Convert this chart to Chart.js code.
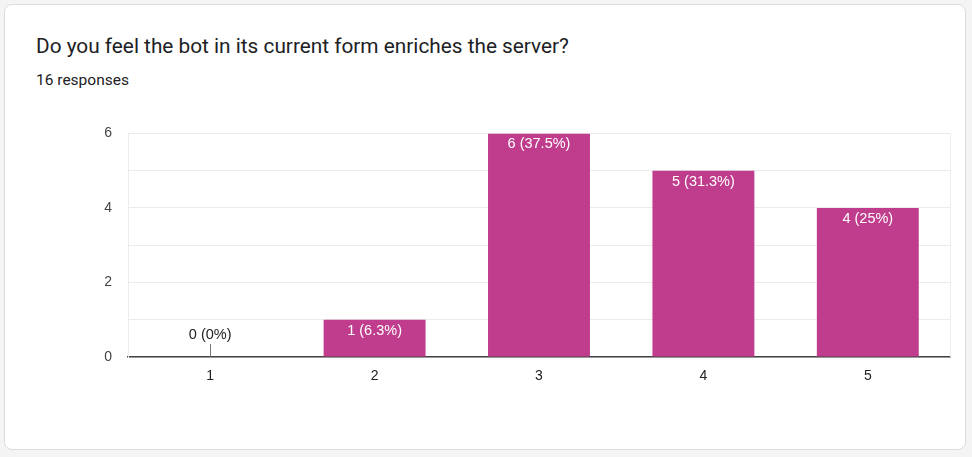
<!DOCTYPE html>
<html>
<head>
<meta charset="utf-8">
<script src="https://cdn.jsdelivr.net/npm/chart.js@4.4.1/dist/chart.umd.min.js"></script>
<style>
  html, body { margin: 0; padding: 0; background: #f4f4f5; }
  body { width: 972px; height: 457px; position: relative; overflow: hidden; }
  .card {
    position: absolute; left: 4px; top: 4px; width: 960px; height: 444px;
    background: #fff; border: 1px solid #dadce0; border-radius: 8px;
  }
  .title {
    position: absolute; left: 31px; top: 29px;
    font-family: Roboto, Arial, sans-serif; font-size: 20.8px; color: #202124;
  }
  .sub {
    position: absolute; left: 31px; top: 66px;
    font-family: Roboto, Arial, sans-serif; font-size: 15.5px; color: #202124;
  }
  #wrap { position: absolute; left: 90px; top: 109px; width: 880px; height: 283px; }
</style>
</head>
<body>
<div class="card">
  <div class="title">Do you feel the bot in its current form enriches the server?</div>
  <div class="sub">16 responses</div>
</div>
<div id="wrap"><canvas id="chart"></canvas></div>
<script>
const categories = ['1', '2', '3', '4', '5'];
const responses = [0, 1, 6, 5, 4];
const totalResponses = 16;

const barColor = '#bf3d8c';
const tickFont = 'Arial, "Liberation Sans", sans-serif';

function percentText(v) {
    let p = (v / totalResponses * 100).toFixed(1);
    if (p.endsWith('.0')) p = p.slice(0, -2);
    return v + ' (' + p + '%)';
}

// labels on the bars, plus the right edge of the plot frame
const barLabels = {
    id: 'barLabels',
    afterDatasetsDraw(chart) {
        const ctx = chart.ctx;
        const area = chart.chartArea;
        ctx.save();
        ctx.strokeStyle = '#ebebeb';
        ctx.lineWidth = 1;
        ctx.beginPath();
        ctx.moveTo(area.right + 0.5, area.top);
        ctx.lineTo(area.right + 0.5, area.bottom);
        ctx.stroke();

        ctx.font = '14.5px ' + tickFont;
        ctx.textAlign = 'center';
        ctx.textBaseline = 'middle';
        const meta = chart.getDatasetMeta(0);
        meta.data.forEach((bar, i) => {
            const v = responses[i];
            const txt = percentText(v);
            if (v === 0) {
                ctx.fillStyle = '#222';
                ctx.fillText(txt, bar.x, bar.y - 22);
                ctx.strokeStyle = '#777';
                ctx.beginPath();
                ctx.moveTo(Math.round(bar.x) + 0.5, bar.y - 13);
                ctx.lineTo(Math.round(bar.x) + 0.5, bar.y);
                ctx.stroke();
            } else {
                ctx.fillStyle = '#fff';
                ctx.fillText(txt, bar.x, bar.y + 11);
            }
        });
        ctx.restore();
    }
};

new Chart(document.getElementById('chart').getContext('2d'), {
    type: 'bar',
    data: {
        labels: categories,
        datasets: [{
            data: responses,
            backgroundColor: barColor,
            borderWidth: 0,
            categoryPercentage: 0.62,
            barPercentage: 1.0
        }]
    },
    options: {
        responsive: true,
        maintainAspectRatio: false,
        animation: false,
        layout: { padding: { top: 4, right: 20, bottom: 0, left: 0 } },
        plugins: {
            legend: { display: false },
            tooltip: { enabled: false }
        },
        scales: {
            x: {
                grid: { display: false },
                border: { color: '#444', width: 1.5 },
                ticks: {
                    color: '#222',
                    font: { family: tickFont, size: 14 },
                    padding: 3
                },
                afterFit(scale) { scale.height = 35; }
            },
            y: {
                min: 0,
                max: 6,
                grid: { color: '#ebebeb', drawTicks: false },
                border: { color: '#ebebeb' },
                ticks: {
                    stepSize: 1,
                    color: '#444',
                    padding: 16,
                    font: { family: tickFont, size: 14 },
                    callback: v => (v % 2 === 0 ? v : '')
                },
                afterFit(scale) { scale.width = 38; }
            }
        }
    },
    plugins: [barLabels]
});
</script>
</body>
</html>
